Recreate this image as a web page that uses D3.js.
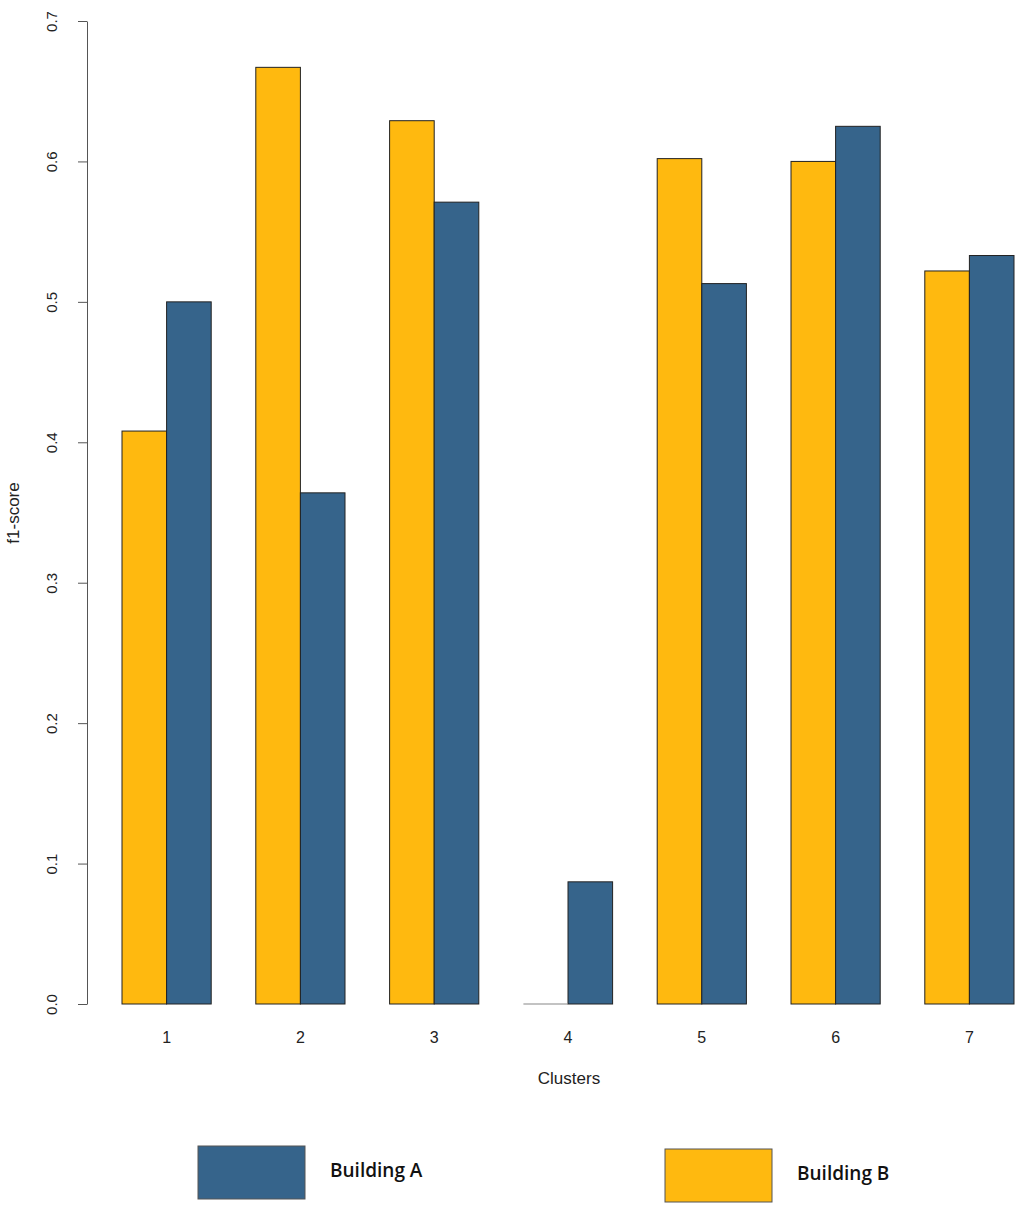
<!DOCTYPE html>
<html><head><meta charset="utf-8">
<script src="https://cdn.jsdelivr.net/npm/d3@7"></script>
<style>body{margin:0;background:#fff}svg{display:block}</style>
</head><body>
<svg id="c" width="1024" height="1209"></svg>
<script>
const clusters = ["1","2","3","4","5","6","7"];
const buildingB = [0.408, 0.667, 0.629, 0, 0.602, 0.600, 0.522];
const buildingA = [0.500, 0.364, 0.571, 0.087, 0.513, 0.625, 0.533];
const yTicks = [0, 0.1, 0.2, 0.3, 0.4, 0.5, 0.6, 0.7];
const colors = {"Building A": "#36648B", "Building B": "#FFB90F"};

const svg = d3.select("#c");
const font = "Liberation Sans, Arial, sans-serif";
const y = d3.scaleLinear().domain([0, 0.7]).range([1004, 21]);
// R barplot unit scale: first bar starts at 1, group = 2 bars + 1 space
const u = d3.scaleLinear().domain([1, 21]).range([122, 1014]);

const data = [];
clusters.forEach((c, i) => {
  data.push({c, i, s: "Building B", v: buildingB[i], x0: 1 + i * 3});
  data.push({c, i, s: "Building A", v: buildingA[i], x0: 2 + i * 3});
});

const bars = svg.append("g");
bars.selectAll("rect").data(data.filter(d => d.v > 0)).join("rect")
  .attr("x", d => u(d.x0))
  .attr("width", d => u(d.x0 + 1) - u(d.x0))
  .attr("y", d => y(d.v))
  .attr("height", d => y(0) - y(d.v))
  .attr("fill", d => colors[d.s])
  .attr("stroke", "#222")
  .attr("stroke-width", 1);
bars.selectAll("line").data(data.filter(d => d.v === 0)).join("line")
  .attr("x1", d => u(d.x0)).attr("x2", d => u(d.x0 + 1))
  .attr("y1", d => y(d.v)).attr("y2", d => y(d.v))
  .attr("stroke", "#888").attr("stroke-width", 1.2);

// y axis
const yAxis = d3.axisLeft(y).tickValues(yTicks).tickSize(9).tickSizeOuter(0);
const ga = svg.append("g").attr("transform", "translate(87,0)").call(yAxis);
ga.select(".domain").attr("stroke", "#555");
ga.selectAll(".tick line").attr("stroke", "#555");
ga.selectAll(".tick text").remove();
ga.selectAll(".tick").append("text")
  .attr("transform", "translate(-30,0) rotate(-90)")
  .attr("text-anchor", "middle")
  .attr("fill", "#222")
  .style("font-family", font).style("font-size", "15px")
  .text(d => d3.format(".1f")(d));

// x labels
svg.append("g").selectAll("text").data(clusters).join("text")
  .attr("x", (d, i) => u(2 + i * 3))
  .attr("y", 1043)
  .attr("text-anchor", "middle")
  .attr("fill", "#222")
  .style("font-family", font).style("font-size", "16px")
  .text(d => d);

svg.append("text").attr("x", 569).attr("y", 1084).attr("text-anchor", "middle")
  .attr("fill", "#222").style("font-family", font).style("font-size", "17px").text("Clusters");
svg.append("text").attr("transform", "translate(19,513) rotate(-90)").attr("text-anchor", "middle")
  .attr("fill", "#222").style("font-family", font).style("font-size", "17px").text("f1-score");

// legend
const legend = [
  {s: "Building A", x: 198, y: 1146},
  {s: "Building B", x: 665, y: 1149}
];
const lg = svg.append("g").selectAll("g").data(legend).join("g");
lg.append("rect").attr("x", d => d.x).attr("y", d => d.y).attr("width", 107).attr("height", 53)
  .attr("fill", d => colors[d.s]).attr("stroke", "#555").attr("stroke-width", 1);
lg.append("text").attr("x", d => d.x + 132).attr("y", d => d.y + 31)
  .attr("fill", "#111").style("font-family", "Open Sans, Noto Sans, sans-serif").style("font-size", "19px")
  .style("font-weight", 600)
  .text(d => d.s);
</script>
</body></html>
